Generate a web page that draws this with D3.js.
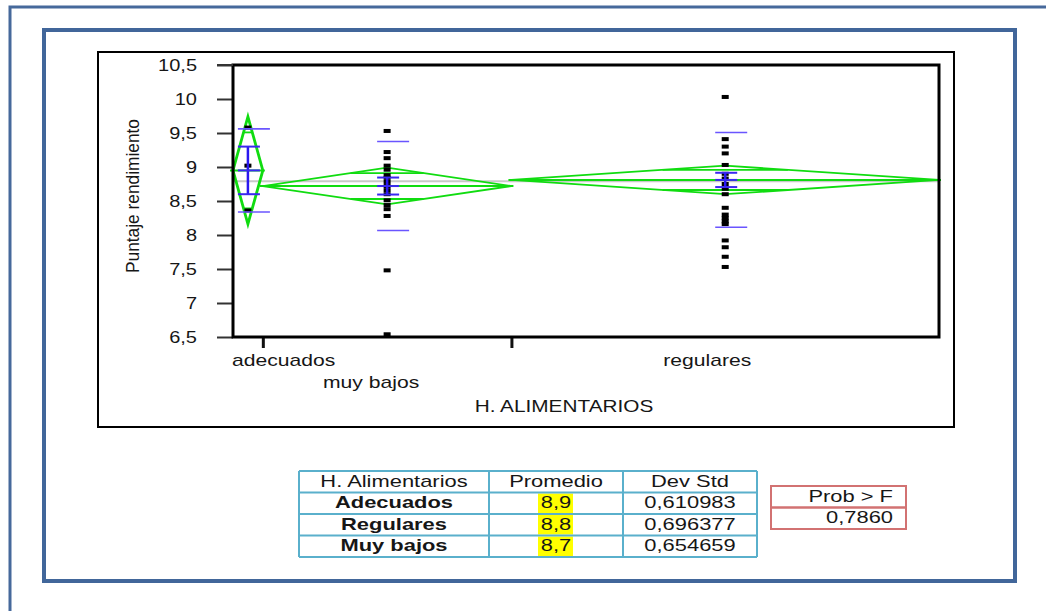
<!DOCTYPE html>
<html>
<head>
<meta charset="utf-8">
<script src="https://cdn.jsdelivr.net/npm/d3@7"></script>
<style>
    body { margin: 0; background: #fff; }
    svg { display: block; font-family: Arial, "Liberation Sans", sans-serif; }
</style>
</head>
<body>
<div id="chart"></div>
<script>
// group order on the x axis, and group sizes (drive the diamond widths)
const groups = ['adecuados', 'muy bajos', 'regulares'];
const groupSizes = [3, 25, 43];
const groupMeans = [8.95, 8.72, 8.81];
const ciHalf = [0.79, 0.27, 0.21];      // 95% CI half width (diamond height)
const seHalf = [0.35, 0.125, 0.105];    // mean error bars
const stdDevs = [0.610983, 0.654659, 0.696377];
const grandMean = 8.79;

const pointsAdecuados = [9.58, 9.02, 8.36];
const pointsMuyBajos = [9.53, 9.22, 9.13, 9.02, 8.96, 8.88, 8.84, 8.78, 8.72, 8.66, 8.6,
    8.51, 8.44, 8.38, 8.28, 7.48, 6.54];
const pointsRegulares = [10.03, 9.41, 9.3, 9.2, 9.03, 8.9, 8.83, 8.75, 8.68, 8.6, 8.4,
    8.3, 8.25, 8.2, 8.16, 7.92, 7.82, 7.68, 7.53];
const groupPoints = [pointsAdecuados, pointsMuyBajos, pointsRegulares];

const yTicks = [6.5, 7, 7.5, 8, 8.5, 9, 9.5, 10, 10.5];
const yTitle = 'Puntaje rendimiento';
const xTitle = 'H. ALIMENTARIOS';

const tableHeader = ['H. Alimentarios', 'Promedio', 'Dev Std'];
const tableNames = ['Adecuados', 'Regulares', 'Muy bajos'];
const tableMeans = ['8,9', '8,8', '8,7'];
const tableStd = ['0,610983', '0,696377', '0,654659'];
const probLabel = 'Prob > F';
const probValue = '0,7860';

const width = 1046;
const height = 611;
const green = '#10dc10';
const textColor = '#161616';

const svg = d3.select('#chart')
    .append('svg')
    .attr('width', width)
    .attr('height', height);

// text that is a bit wider than the font (the source picture is stretched)
function sText(parent, x, y, str, opts = {}) {
    const { size = 16, sx = 1.25, sy = 1, anchor = 'middle', weight = 'normal', rotate = 0 } = opts;
    return parent.append('text')
        .attr('transform', `translate(${x},${y}) rotate(${rotate}) scale(${sx},${sy})`)
        .attr('text-anchor', anchor)
        .attr('fill', textColor)
        .style('font-size', size + 'px')
        .style('font-weight', weight)
        .text(str);
}

// frames
svg.append('path')
    .attr('d', `M10,${height} V7 H${width}`)
    .attr('fill', 'none')
    .attr('stroke', '#46699b')
    .attr('stroke-width', 3);

svg.append('rect')
    .attr('x', 44).attr('y', 30)
    .attr('width', 971).attr('height', 551)
    .attr('fill', 'none')
    .attr('stroke', '#41669a')
    .attr('stroke-width', 4);

svg.append('rect')
    .attr('x', 98).attr('y', 52)
    .attr('width', 856).attr('height', 375)
    .attr('fill', 'none')
    .attr('stroke', '#000')
    .attr('stroke-width', 2);

// scales
const plot = { left: 233, right: 939, top: 65, bottom: 337 };
const starts = [0, ...d3.cumsum(groupSizes)];
const xScale = d3.scaleLinear()
    .domain([0, d3.sum(groupSizes)])
    .range([plot.left, plot.right]);
const yScale = d3.scaleLinear()
    .domain([6.5, 10.5])
    .range([plot.bottom, plot.top]);

// y axis
const yAxis = svg.append('g')
    .attr('transform', `translate(${plot.left},0)`)
    .call(d3.axisLeft(yScale).tickValues(yTicks).tickSize(16)
        .tickFormat((d) => String(d).replace('.', ',')));
yAxis.select('.domain').remove();
yAxis.selectAll('line').attr('stroke', '#333').attr('stroke-width', 2);
yAxis.selectAll('text')
    .attr('x', -36 / 1.25)
    .attr('transform', 'scale(1.25,1)')
    .attr('fill', textColor)
    .style('font-size', '16px')
    .style('font-family', 'Arial, "Liberation Sans", sans-serif');

// x axis: ticks at group boundaries
const xAxis = svg.append('g')
    .attr('transform', `translate(0,${plot.bottom})`)
    .call(d3.axisBottom(xScale).tickValues(starts.slice(1, -1)).tickSize(11).tickFormat(''));
xAxis.select('.domain').remove();
xAxis.selectAll('line').attr('stroke', '#111').attr('stroke-width', 3);

// overall mean
svg.append('line')
    .attr('x1', plot.left).attr('x2', plot.right)
    .attr('y1', yScale(grandMean)).attr('y2', yScale(grandMean))
    .attr('stroke', '#c8c8c8')
    .attr('stroke-width', 2);

const marks = svg.append('g');

groups.forEach((g, i) => {
    const x0 = xScale(starts[i]);
    const x1 = xScale(starts[i + 1]);
    const xm = (x0 + x1) / 2;
    const m = groupMeans[i];
    const ci = ciHalf[i];

    // means diamond
    marks.append('path')
        .attr('d', `M${x0},${yScale(m)} L${xm},${yScale(m + ci)} L${x1},${yScale(m)} L${xm},${yScale(m - ci)} Z`)
        .attr('fill', 'none')
        .attr('stroke', green)
        .attr('stroke-width', i === 0 ? 2.8 : 1.8);

    marks.append('line')
        .attr('x1', x0 - 3).attr('x2', x1 + 2)
        .attr('y1', yScale(m)).attr('y2', yScale(m))
        .attr('stroke', green).attr('stroke-width', 2);

    // overlap marks
    const half = (x1 - x0) / 2 * (1 - Math.SQRT1_2);
    [1, -1].forEach((s) => {
        marks.append('line')
            .attr('x1', xm - half).attr('x2', xm + half)
            .attr('y1', yScale(m + s * ci * Math.SQRT1_2))
            .attr('y2', yScale(m + s * ci * Math.SQRT1_2))
            .attr('stroke', green).attr('stroke-width', 1.8);
    });

    // points
    marks.append('g')
        .selectAll('rect')
        .data(groupPoints[i])
        .join('rect')
        .attr('x', xm - 3.5)
        .attr('y', (d) => yScale(d) - 2)
        .attr('width', 7)
        .attr('height', 4)
        .attr('fill', '#000');

    // std dev lines
    [1, -1].forEach((s) => {
        marks.append('line')
            .attr('x1', xm - 10).attr('x2', xm + 22)
            .attr('y1', yScale(m + s * stdDevs[i]))
            .attr('y2', yScale(m + s * stdDevs[i]))
            .attr('stroke', '#6a55ff').attr('stroke-width', 1.6);
    });

    // mean error bars
    const se = seHalf[i];
    marks.append('line')
        .attr('x1', xm).attr('x2', xm)
        .attr('y1', yScale(m + se)).attr('y2', yScale(m - se))
        .attr('stroke', '#2a18f0').attr('stroke-width', 2.5);
    [se, 0, -se].forEach((d) => {
        marks.append('line')
            .attr('x1', xm - 10).attr('x2', xm + 12)
            .attr('y1', yScale(m + d)).attr('y2', yScale(m + d))
            .attr('stroke', '#3a28f0').attr('stroke-width', 2);
    });
});

// plot border on top
svg.append('rect')
    .attr('x', plot.left).attr('y', plot.top)
    .attr('width', plot.right - plot.left)
    .attr('height', plot.bottom - plot.top)
    .attr('fill', 'none')
    .attr('stroke', '#000')
    .attr('stroke-width', 3);
svg.append('line')
    .attr('x1', 217).attr('x2', plot.left)
    .attr('y1', plot.top).attr('y2', plot.top)
    .attr('stroke', '#333').attr('stroke-width', 2);

// x labels
const labelsG = svg.append('g');
sText(labelsG, xScale(starts[0]) - 1, 366, groups[0], { anchor: 'start', sx: 1.32 });
sText(labelsG, xScale((starts[1] + starts[2]) / 2) - 16, 388, groups[1], { sx: 1.32 });
sText(labelsG, xScale((starts[2] + starts[3]) / 2) - 18, 366, groups[2], { sx: 1.32 });
sText(labelsG, 564, 412, xTitle, { sx: 1.3 });
sText(labelsG, 139, 196, yTitle, { rotate: -90, sx: 1.05, sy: 1.15, size: 16.5 });

// summary table
const tableG = svg.append('g');
const colEdges = [299, 489, 623, 757];
const rowScale = d3.scaleBand().domain(d3.range(4)).range([471, 557]);
const tableBorder = '#5ab0cc';
const rows = [tableHeader].concat(tableNames.map((n, i) => [n, tableMeans[i], tableStd[i]]));

rows.forEach((row, r) => {
    row.forEach((cell, c) => {
        const cx = (colEdges[c] + colEdges[c + 1]) / 2;
        const top = rowScale(r);
        if (r > 0 && c === 1) {
            tableG.append('rect')
                .attr('x', cx - 18).attr('y', top + 1)
                .attr('width', 35).attr('height', rowScale.bandwidth() - 2)
                .attr('fill', '#ffff00');
        }
        sText(tableG, cx, top + 15.5, cell, {
            sx: 1.37,
            weight: r > 0 && c === 0 ? 'bold' : 'normal'
        });
    });
});
rowScale.domain().concat([4]).forEach((r) => {
    const yy = r < 4 ? rowScale(r) : rowScale.range()[1];
    tableG.append('line')
        .attr('x1', colEdges[0]).attr('x2', colEdges[3])
        .attr('y1', yy).attr('y2', yy)
        .attr('stroke', tableBorder).attr('stroke-width', 2);
});
colEdges.forEach((xx) => {
    tableG.append('line')
        .attr('x1', xx).attr('x2', xx)
        .attr('y1', rowScale.range()[0]).attr('y2', rowScale.range()[1])
        .attr('stroke', tableBorder).attr('stroke-width', 2);
});

// prob > F box
const probG = svg.append('g');
const probRows = d3.scaleBand().domain([0, 1]).range([486, 529]);
[probLabel, probValue].forEach((t, i) => {
    probG.append('rect')
        .attr('x', 771).attr('y', probRows(i))
        .attr('width', 135).attr('height', probRows.bandwidth())
        .attr('fill', 'none')
        .attr('stroke', '#d27272')
        .attr('stroke-width', 2);
    sText(probG, 893, probRows(i) + 15.5, t, { anchor: 'end', sx: 1.37 });
});
</script>
</body>
</html>
